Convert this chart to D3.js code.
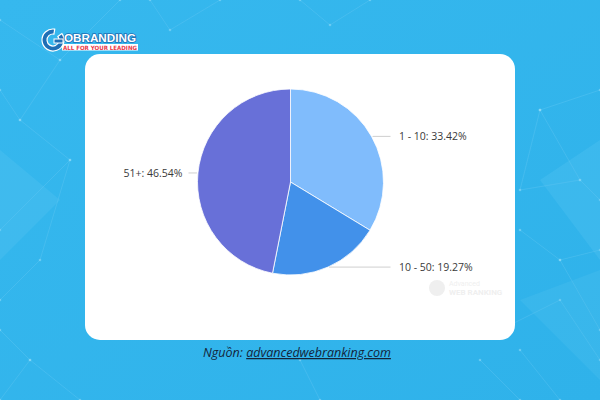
<!DOCTYPE html>
<html><head><meta charset="utf-8">
<script src="https://cdn.jsdelivr.net/npm/d3@7"></script>
<style>html,body{margin:0;padding:0;overflow:hidden;background:#32b5ec}</style>
</head><body>
<svg id="chart" width="600" height="400"></svg>
<script>
const categories = ["1 - 10", "10 - 50", "51+"];
const shares = [33.42, 19.27, 46.54];
const sliceColors = ["#80bcfc", "#4291ea", "#6870d8"];
const sourcePrefix = "Nguồn: ";
const sourceLink = "advancedwebranking.com";

const svg = d3.select("#chart");
const W = 600, H = 400;

// background
const defs = svg.append("defs");
const bg = defs.append("linearGradient").attr("id","bg").attr("x1","0").attr("y1","0").attr("x2","1").attr("y2","1");
bg.append("stop").attr("offset","0").attr("stop-color","#36b8ee");
bg.append("stop").attr("offset","1").attr("stop-color","#2fb2ea");
svg.append("rect").attr("width",W).attr("height",H).attr("fill","url(#bg)");

// decorative network lines
const net = svg.append("g").attr("stroke","#7fd3f5").attr("stroke-opacity",0.35).attr("stroke-width",0.7).attr("fill","none");
const decoLines = [
  [[0,20],[60,60],[20,120],[70,160],[0,230]],
  [[60,60],[120,0]],[[20,120],[0,90]],[[70,160],[40,260],[0,300]],
  [[150,0],[170,30],[220,0]],[[300,0],[330,25],[370,0]],
  [[540,110],[600,90]],[[540,110],[580,180],[600,200]],[[540,110],[520,190],[580,180]],
  [[520,230],[560,260],[600,250]],[[560,260],[600,330]],[[500,330],[560,300],[600,360]],
  [[520,350],[560,400]],[[480,360],[520,400]],[[300,360],[320,400]],
  [[0,330],[30,360],[0,400]],[[30,360],[80,400]]
];
decoLines.forEach(l => net.append("path").attr("d", d3.line()(l)));
const dots = svg.append("g").attr("fill","#8fdaf8").attr("fill-opacity",0.55);
decoLines.flat().forEach(p => dots.append("circle").attr("cx",p[0]).attr("cy",p[1]).attr("r",1.3));
svg.append("path").attr("d","M0,150 L60,200 L0,260 Z").attr("fill","#5fc8f2").attr("opacity",0.25);
svg.append("path").attr("d","M540,180 L600,140 L600,260 Z").attr("fill","#5fc8f2").attr("opacity",0.25);
svg.append("path").attr("d","M520,300 L600,270 L600,380 Z").attr("fill","#5fc8f2").attr("opacity",0.2);

// logo
const logo = svg.append("g");
logo.append("rect").attr("x",62).attr("y",44).attr("width",76).attr("height",6.5).attr("fill","#fff");
logo.append("text").attr("x",100).attr("y",49.8).attr("text-anchor","middle")
  .attr("font-family","DejaVu Sans Condensed, Liberation Sans Narrow, sans-serif").attr("font-weight","bold")
  .attr("font-size",5.8).attr("fill","#e8394a").attr("textLength",74).attr("lengthAdjust","spacingAndGlyphs")
  .text("ALL FOR YOUR LEADING");
const gArc = d3.arc().innerRadius(6).outerRadius(11).startAngle(Math.PI*0.3).endAngle(Math.PI*2.05);
const gG = logo.append("g").attr("transform","translate(53,40)");
gG.append("path").attr("d",gArc()).attr("fill","#1f6fb5").attr("stroke","#fff").attr("stroke-width",1.2);
gG.append("rect").attr("x",1).attr("y",-1).attr("width",9).attr("height",4).attr("fill","#1f6fb5").attr("stroke","#fff").attr("stroke-width",1);
logo.append("text").attr("x",64).attr("y",41.5)
  .attr("font-family","Liberation Sans, Arial, sans-serif").attr("font-weight","bold").attr("font-size",11)
  .attr("fill","#fff").attr("stroke","#1f6fb5").attr("stroke-width",1.6).attr("paint-order","stroke")
  .attr("textLength",72).attr("lengthAdjust","spacingAndGlyphs").text("OBRANDING");

// card
svg.append("rect").attr("x",85).attr("y",54).attr("width",430).attr("height",286).attr("rx",15).attr("fill","#fff");

// watermark
const wm = svg.append("g").attr("fill","#efefef");
wm.append("circle").attr("cx",437).attr("cy",288).attr("r",8);
wm.append("text").attr("x",449).attr("y",286).attr("font-family","Roboto, sans-serif").attr("font-size",7).text("Advanced");
wm.append("text").attr("x",449).attr("y",295).attr("font-family","Roboto, sans-serif").attr("font-weight","bold").attr("font-size",8).text("WEB RANKING");

// pie
const cx = 290.5, cy = 182, r = 93;
const data = categories.map((c,i)=>({cat:c, v:shares[i], color:sliceColors[i]}));
const pie = d3.pie().value(d=>d.v).sort(null);
const arc = d3.arc().innerRadius(0).outerRadius(r);
const arcs = pie(data);
const g = svg.append("g").attr("transform",`translate(${cx},${cy})`);
g.selectAll("path.slice").data(arcs).join("path").attr("class","slice")
  .attr("d",arc).attr("fill",d=>d.data.color).attr("stroke","#fff").attr("stroke-width",0.8);

// labels with leader lines
const fmt = d3.format(".2f");
const labelFont = "Open Sans, Noto Sans, sans-serif";
arcs.forEach(a => {
  const mid = (a.startAngle + a.endAngle)/2;
  const px = Math.sin(mid)*r, py = -Math.cos(mid)*r;
  const right = px > 0;
  const x1 = px + (right ? 1 : -1);
  const x2 = right ? 100 : -102;
  g.append("line").attr("x1",x1).attr("y1",py).attr("x2",x2).attr("y2",py)
    .attr("stroke","#cfcfcf").attr("stroke-width",1);
  g.append("text").attr("x", right ? 108.5 : -108).attr("y", py + 4)
    .attr("text-anchor", right ? "start" : "end")
    .attr("font-family",labelFont).attr("font-size",10.5).attr("fill","#3a3a3a")
    .text(`${a.data.cat}: ${fmt(a.data.v)}%`);
});

// source
const src = svg.append("text").attr("x",297).attr("y",357).attr("text-anchor","middle")
  .attr("font-family","Open Sans, Noto Sans, sans-serif").attr("font-style","italic")
  .attr("font-size",12.5).attr("fill","#14243a");
src.append("tspan").text(sourcePrefix);
src.append("tspan").attr("text-decoration","underline").text(sourceLink);
</script>
</body></html>
